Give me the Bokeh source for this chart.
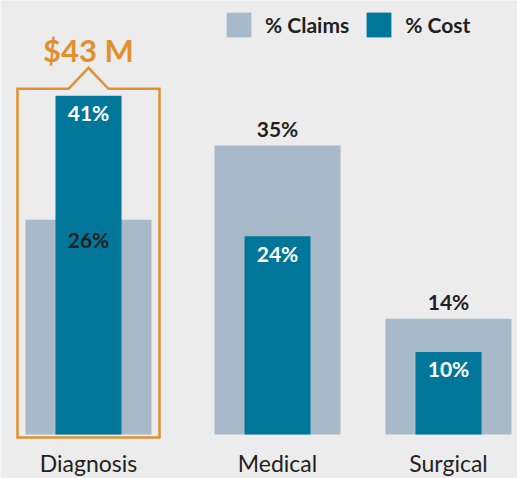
from bokeh.plotting import figure
from bokeh.models import Range1d, Legend, LegendItem, ColumnDataSource
from bokeh.core.properties import value
from bokeh.embed import file_html
from bokeh.resources import INLINE

# ---- data ----
categories = ["Diagnosis", "Medical", "Surgical"]
claims_pct = [26, 35, 14]
cost_pct = [41, 24, 10]
claims_labels = ["26%", "35%", "14%"]
cost_labels = ["41%", "24%", "10%"]
callout_text = "$43 M"
series_names = ["% Claims", "% Cost"]

# ---- layout / style ----
W, H = 517, 478
BASE_PX = 434          # baseline (screen px from top)
S = 8.26               # px per percentage point
centers = [88, 277, 448]
CLAIMS_W, COST_W = 126, 66
BG = "#ececec"
CLAIMS_C = "#a8b9c9"
COST_C = "#00779a"
ORANGE = "#e0902f"
DARK = "#231f20"
FONT = "Lato"

y_start = -(H - BASE_PX) / S
y_end = BASE_PX / S

p = figure(width=W, height=H, output_backend="svg", toolbar_location=None,
           x_range=Range1d(0, W), y_range=Range1d(y_start, y_end),
           x_axis_location=None, y_axis_location=None, min_border=0,
           background_fill_color=BG, border_fill_color=BG, outline_line_color=None)
p.grid.visible = False

src = ColumnDataSource(dict(x=centers, claims=claims_pct, cost=cost_pct,
                            cl=claims_labels, co=cost_labels, cat=categories))

r_claims = p.vbar(x="x", top="claims", bottom=0, width=CLAIMS_W, source=src,
                  fill_color=CLAIMS_C, line_color=None)
r_cost = p.vbar(x="x", top="cost", bottom=0, width=COST_W, source=src,
                fill_color=COST_C, line_color=None)

VAL_SIZE = "21px"
# cost labels (white, inside top of cost bar)
p.text(x="x", y="cost", text="co", source=src, y_offset=17,
       text_align="center", text_baseline="middle", text_color="white",
       text_font=value(FONT), text_font_size=VAL_SIZE, text_font_style="bold")

# claims labels: inside when cost > claims, above otherwise
inside_idx = [i for i in range(len(categories)) if cost_pct[i] > claims_pct[i]]
above_idx = [i for i in range(len(categories)) if cost_pct[i] <= claims_pct[i]]
src_in = ColumnDataSource(dict(x=[centers[i] for i in inside_idx],
                               y=[claims_pct[i] for i in inside_idx],
                               t=[claims_labels[i] for i in inside_idx]))
src_out = ColumnDataSource(dict(x=[centers[i] for i in above_idx],
                                y=[claims_pct[i] for i in above_idx],
                                t=[claims_labels[i] for i in above_idx]))
for s, off in ((src_in, 20), (src_out, -17)):
    p.text(x="x", y="y", text="t", source=s, y_offset=off,
           text_align="center", text_baseline="middle", text_color=DARK,
           text_font=value(FONT), text_font_size=VAL_SIZE, text_font_style="bold")

# category labels
p.text(x="x", y=0, text="cat", source=src, y_offset=28,
       text_align="center", text_baseline="middle", text_color=DARK,
       text_font=value(FONT), text_font_size="23px")

# callout box around first category
c0 = centers[0]
top = cost_pct[0] + 7 / S
bot = -3 / S
left, right = c0 - 71, c0 + 71
notch = 20
peak = top + 21 / S
bx = [c0 - notch, left, left, right, right, c0 + notch, c0, c0 - notch]
by = [top, top, bot, bot, top, top, peak, top]
p.line(bx, by, line_color=ORANGE, line_width=2.5, line_join="miter")
p.text(x=[c0], y=[top + 39 / S], text=[callout_text], text_align="center",
       text_baseline="middle", text_color=ORANGE, text_font=value(FONT),
       text_font_size="31px", text_font_style="bold")

legend = Legend(items=[LegendItem(label=series_names[0], renderers=[r_claims]),
                       LegendItem(label=series_names[1], renderers=[r_cost])],
                orientation="horizontal", location=(223, 438),
                glyph_width=31, glyph_height=31, label_standoff=11, spacing=14,
                padding=0, margin=0, border_line_color=None,
                background_fill_alpha=0, label_text_font=FONT,
                label_text_font_size="21px", label_text_font_style="bold",
                label_text_color=DARK)
p.add_layout(legend)

open("out.html", "w").write(file_html(p, INLINE))
